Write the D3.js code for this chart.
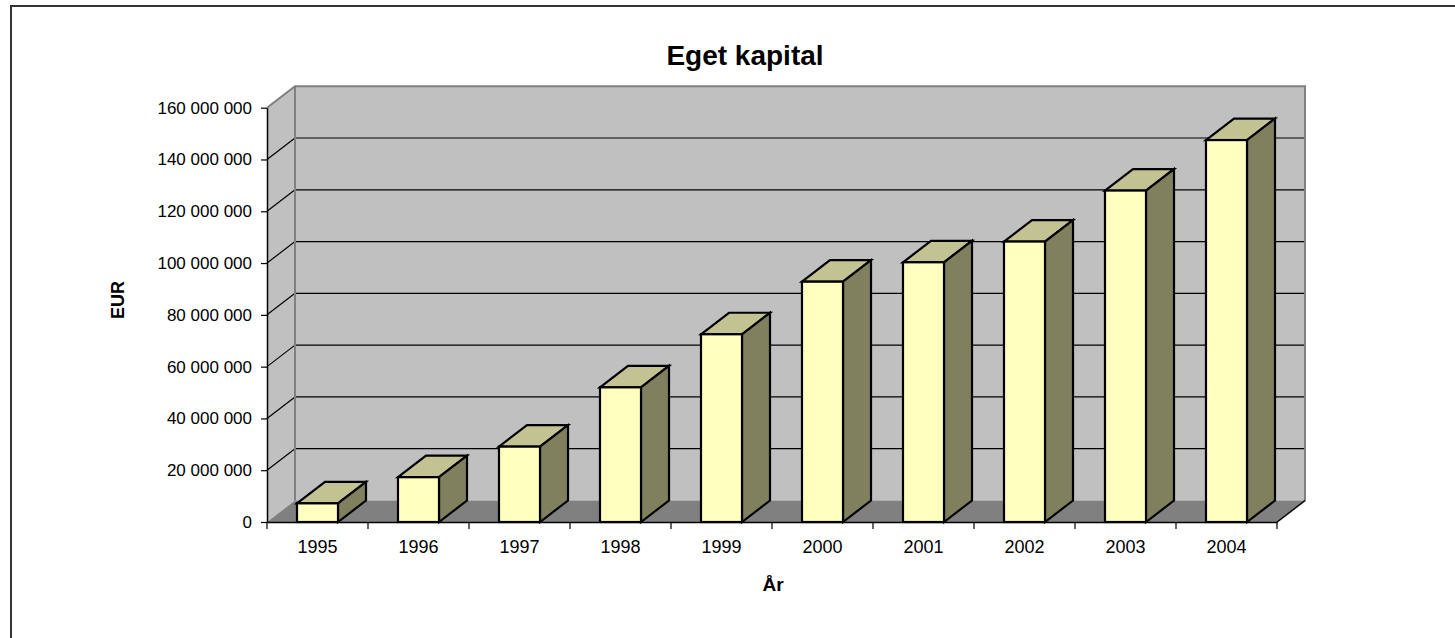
<!DOCTYPE html>
<html>
<head>
<meta charset="utf-8">
<script src="https://cdn.jsdelivr.net/npm/d3@7"></script>
<style>
  body { margin: 0; background: #fff; }
  text { font-family: Arial, "Liberation Sans", sans-serif; }
</style>
</head>
<body>
<div id="chart"></div>
<script>
// data
var years = ["1995", "1996", "1997", "1998", "1999", "2000", "2001", "2002", "2003", "2004"];
var equity = [7.2e6, 17.3e6, 29.1e6, 52.0e6, 72.5e6, 92.8e6, 100.3e6, 108.3e6, 128.0e6, 147.5e6];
var yTicks = [0, 20e6, 40e6, 60e6, 80e6, 100e6, 120e6, 140e6, 160e6];

var W = 1455, H = 638;
var pL = 267, pR = 1277, pB = 522, pT = 107.7;
var dx = 28, dy = -21.5; // depth of the 3d box

var svg = d3.select("#chart").append("svg")
    .attr("width", W).attr("height", H);

// outer frame (only the left and top edges are inside the picture)
svg.append("rect")
    .attr("x", 11).attr("y", 6).attr("width", 1500).attr("height", 700)
    .attr("fill", "none").attr("stroke", "#333").attr("stroke-width", 2);

var x = d3.scaleBand().domain(years).range([pL, pR]);
var y = d3.scaleLinear().domain([0, 160e6]).range([pB, pT]);

var loc = d3.formatLocale({decimal: ",", thousands: " ", grouping: [3], currency: ["", ""]});
var fmt = loc.format(",");

var pts = function(a) { return a.map(function(p) { return p.join(","); }).join(" "); };
var yMax = y(160e6);

// side wall
svg.append("polygon")
    .attr("points", pts([[pL, yMax], [pL + dx, yMax + dy], [pL + dx, pB + dy], [pL, pB]]))
    .attr("fill", "#c0c0c0");
// back wall
svg.append("polygon")
    .attr("points", pts([[pL + dx, yMax + dy], [pR + dx, yMax + dy], [pR + dx, pB + dy], [pL + dx, pB + dy]]))
    .attr("fill", "#c0c0c0");
// floor
svg.append("polygon")
    .attr("points", pts([[pL, pB], [pL + dx, pB + dy], [pR + dx, pB + dy], [pR, pB]]))
    .attr("fill", "#808080");

// gridlines
var grid = svg.append("g").attr("stroke", "#000").attr("stroke-width", 1.2);
yTicks.filter(function(t) { return t > 0 && t < 160e6; }).forEach(function(t) {
  grid.append("line")
      .attr("x1", pL).attr("y1", y(t))
      .attr("x2", pL + dx).attr("y2", y(t) + dy);
  grid.append("line")
      .attr("x1", pL + dx).attr("y1", y(t) + dy)
      .attr("x2", pR + dx).attr("y2", y(t) + dy);
});

// wall edges
svg.append("polyline")
    .attr("points", pts([[pL, yMax], [pL + dx, yMax + dy], [pR + dx, yMax + dy], [pR + dx, pB + dy], [pR, pB]]))
    .attr("fill", "none").attr("stroke", "#808080").attr("stroke-width", 2);
svg.append("line")
    .attr("x1", pL + dx).attr("y1", yMax + dy)
    .attr("x2", pL + dx).attr("y2", pB + dy)
    .attr("stroke", "#808080").attr("stroke-width", 2);

// bars
var bw = x.bandwidth() * 0.406, off = x.bandwidth() * 0.297;
var bars = svg.append("g").selectAll("g").data(years).join("g")
    .attr("stroke", "#000").attr("stroke-width", 2.2).attr("stroke-linejoin", "miter");
bars.each(function(d, i) {
  var g = d3.select(this);
  var x0 = x(d) + off, x1 = x0 + bw, yt = y(equity[i]);
  g.append("polygon")
      .attr("points", pts([[x0, yt], [x0 + dx, yt + dy], [x1 + dx, yt + dy], [x1, yt]]))
      .attr("fill", "#c2c293");
  g.append("polygon")
      .attr("points", pts([[x1, yt], [x1 + dx, yt + dy], [x1 + dx, pB + dy], [x1, pB]]))
      .attr("fill", "#80805f");
  g.append("rect")
      .attr("x", x0).attr("y", yt).attr("width", bw).attr("height", pB - yt)
      .attr("fill", "#ffffc0");
});

// y axis
var yAxis = svg.append("g")
    .attr("transform", "translate(" + pL + ",0)")
    .call(d3.axisLeft(y).tickValues(yTicks).tickSize(6).tickSizeOuter(0).tickFormat(fmt));
yAxis.select(".domain").attr("stroke", "#000").attr("stroke-width", 1.5);
yAxis.selectAll(".tick line").attr("stroke", "#000").attr("stroke-width", 1.2);
yAxis.selectAll(".tick text")
    .attr("x", -15).attr("font-size", 17).attr("fill", "#000")
    .style("font-family", "Arial, 'Liberation Sans', sans-serif");

// x axis
var xAxis = svg.append("g")
    .attr("transform", "translate(0," + pB + ")")
    .call(d3.axisBottom(x).tickSize(0).tickSizeOuter(0));
xAxis.select(".domain").attr("stroke", "#000").attr("stroke-width", 1.5);
xAxis.selectAll(".tick text")
    .attr("y", 31).attr("dy", 0).attr("font-size", 18).attr("fill", "#000")
    .style("font-family", "Arial, 'Liberation Sans', sans-serif");
// category boundary ticks
xAxis.selectAll("line.sep").data(years.concat(["end"])).join("line")
    .attr("class", "sep")
    .attr("x1", function(d, i) { return pL + i * x.step(); })
    .attr("x2", function(d, i) { return pL + i * x.step(); })
    .attr("y1", 0).attr("y2", 7)
    .attr("stroke", "#000").attr("stroke-width", 1.2);
svg.append("line")
    .attr("x1", pR).attr("y1", pB).attr("x2", pR + dx).attr("y2", pB + dy)
    .attr("stroke", "#000").attr("stroke-width", 1.2);

// titles
svg.append("text")
    .attr("x", 745).attr("y", 65).attr("text-anchor", "middle")
    .attr("font-size", 28).attr("font-weight", "bold")
    .text("Eget kapital");
svg.append("text")
    .attr("x", 773).attr("y", 591).attr("text-anchor", "middle")
    .attr("font-size", 19).attr("font-weight", "bold")
    .text("År");
svg.append("text")
    .attr("transform", "translate(124,300) rotate(-90)")
    .attr("text-anchor", "middle")
    .attr("font-size", 18).attr("font-weight", "bold")
    .text("EUR");
</script>
</body>
</html>
